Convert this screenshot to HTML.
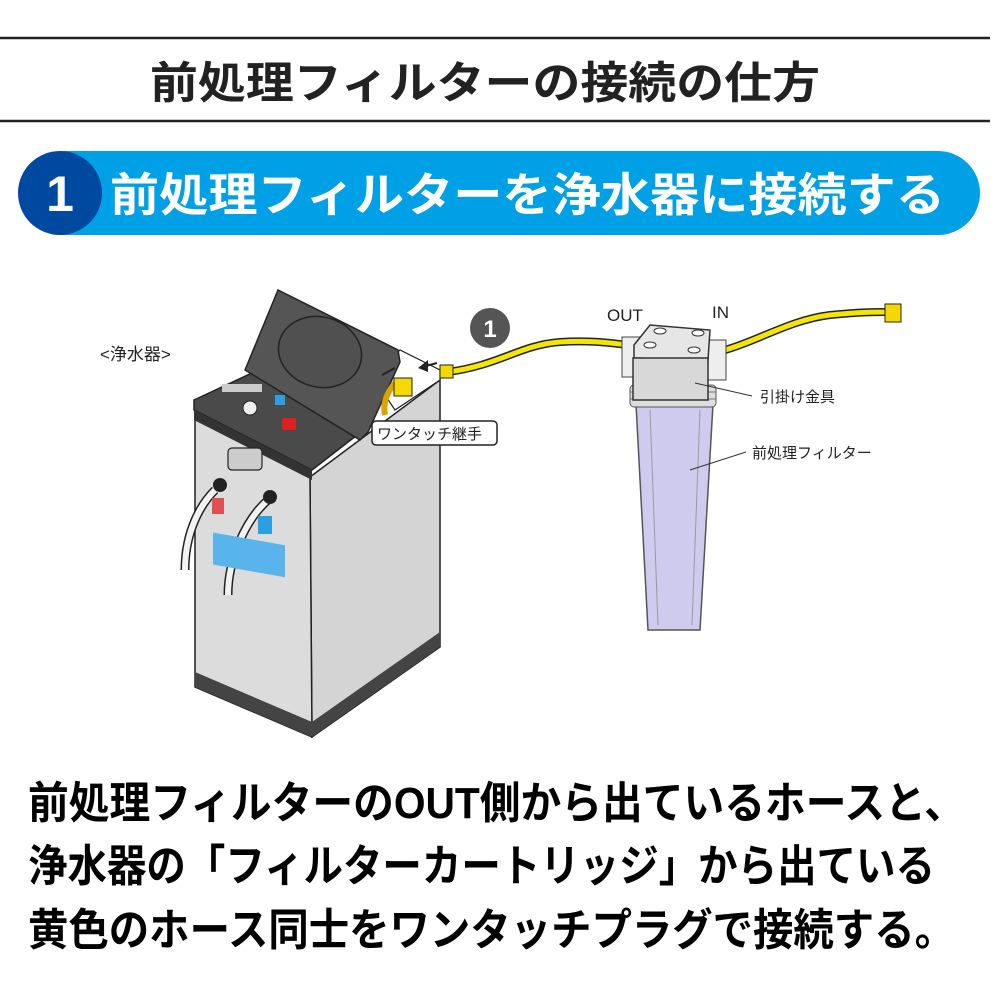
<!DOCTYPE html>
<html><head><meta charset="utf-8"><style>
html,body{margin:0;padding:0;background:#fff;}
svg{display:block;}
text{font-family:"Liberation Sans","Noto Sans CJK JP",sans-serif;}
</style></head><body>
<svg width="1000" height="1001" viewBox="0 0 1000 1001" xmlns="http://www.w3.org/2000/svg">
<line x1="0" y1="38" x2="990" y2="38" stroke="#222" stroke-width="2.5"/>
<line x1="0" y1="121" x2="990" y2="121" stroke="#222" stroke-width="2.5"/>
<text x="150" y="98" font-size="44" font-weight="bold" fill="#222" textLength="670" lengthAdjust="spacingAndGlyphs">前処理フィルターの接続の仕方</text>
<path d="M60 151 H938 A42 42 0 0 1 938 235 H60 Z" fill="#00a0e6"/>
<circle cx="60" cy="193" r="42" fill="#0049a0"/>
<text x="60" y="211" font-size="50" font-weight="bold" fill="#fff" text-anchor="middle">1</text>
<text x="110" y="211" font-size="46" font-weight="bold" fill="#fff" textLength="835" lengthAdjust="spacingAndGlyphs">前処理フィルターを浄水器に接続する</text>

<text x="100" y="360" font-size="17" fill="#222">&lt;浄水器&gt;</text>
<polygon points="310,477 440,380 440,647 312,737" fill="#d4d4d4" stroke="#222" stroke-width="1.5"/>
<polygon points="195,413 310,477 312,737 195,687" fill="#dcdcdc" stroke="#222" stroke-width="1.5"/>
<polygon points="195,672 312,722 312,737 195,687" fill="#444"/>
<polygon points="312,722 440,632 440,647 312,737" fill="#444"/>
<polygon points="194,400 252,373 370,425 312,470 194,410" fill="#4a4a4a" stroke="#222" stroke-width="1.5"/>
<polygon points="194,410 312,470 312,480 194,420" fill="#333"/>
<polygon points="380,370 400,350 440,370 440,380 395,410 385,395" fill="#fff" stroke="#222" stroke-width="1.2"/>
<polygon points="245,370 278,290 398,350 400,362 368,432 360,440" fill="#555" stroke="#222" stroke-width="1.5"/>
<ellipse cx="320" cy="352" rx="42" ry="35" fill="#505050" stroke="#222" stroke-width="1.5" transform="rotate(15 320 352)"/>
<rect x="222" y="384" width="40" height="8" fill="#ccc"/>
<rect x="275" y="395" width="10" height="10" fill="#2ba0e0"/>
<rect x="282" y="418" width="14" height="12" fill="#e02020"/>
<circle cx="250" cy="408" r="7" fill="#eee" stroke="#222"/>
<rect x="228" y="448" width="34" height="22" rx="4" fill="#ccc" stroke="#222" stroke-width="1.2"/>
<path d="M215 490 C195 510 185 540 185 570" stroke="#222" stroke-width="9" fill="none"/>
<path d="M215 490 C195 510 185 540 185 570" stroke="#f2f2f2" stroke-width="6" fill="none"/>
<path d="M268 500 C245 520 228 560 228 595" stroke="#222" stroke-width="9" fill="none"/>
<path d="M268 500 C245 520 228 560 228 595" stroke="#f2f2f2" stroke-width="6" fill="none"/>
<circle cx="220" cy="485" r="7" fill="#222"/><circle cx="270" cy="497" r="7" fill="#222"/>
<rect x="212" y="498" width="12" height="16" fill="#e05050"/>
<rect x="258" y="516" width="14" height="18" fill="#2ba0e0"/>
<rect x="213" y="535" width="72" height="32" fill="#5ab4ec" transform="skewY(10) translate(0,-40)"/>
<path d="M395 383 C385 395 383 405 385 415" stroke="#d9a400" stroke-width="6" fill="none"/>
<rect x="394" y="378" width="18" height="18" fill="#f5d800" stroke="#222"/>
<path d="M382 375 L395 368" stroke="#222" stroke-width="2"/>
<path d="M437 363 L422 367" stroke="#222" stroke-width="2"/>
<polygon points="418,368 428,360 428,372" fill="#222"/>
<rect x="372" y="421" width="125" height="24" rx="4" fill="#fff" stroke="#222" stroke-width="1.5"/>
<text x="377" y="439" font-size="15" fill="#222">ワンタッチ継手</text>

<path d="M448 372 C500 365 520 345 560 342 C590 340 610 343 628 345" stroke="#222" stroke-width="8" fill="none"/>
<path d="M448 372 C500 365 520 345 560 342 C590 340 610 343 628 345" stroke="#f5e600" stroke-width="5" fill="none"/>
<rect x="440" y="365" width="13" height="13" fill="#f5d800" stroke="#222"/>
<path d="M725 350 C760 340 790 320 830 315 C860 312 875 312 888 312" stroke="#222" stroke-width="8" fill="none"/>
<path d="M725 350 C760 340 790 320 830 315 C860 312 875 312 888 312" stroke="#f5e600" stroke-width="5" fill="none"/>
<rect x="885" y="304" width="16" height="18" fill="#f5d800" stroke="#222"/>
<circle cx="490" cy="328" r="20" fill="#555"/>
<text x="490" y="337" font-size="24" font-weight="bold" fill="#fff" text-anchor="middle">1</text>
<text x="607" y="321" font-size="17" fill="#222">OUT</text>
<text x="712" y="318" font-size="17" fill="#222">IN</text>

<polygon points="636,404 713,404 700,630 648,630" fill="#cfcbee" stroke="#555" stroke-width="1.5"/>
<line x1="650" y1="410" x2="658" y2="625" stroke="#999"/>
<line x1="700" y1="410" x2="692" y2="625" stroke="#999"/>
<rect x="630" y="385" width="86" height="22" rx="4" fill="#ddd" stroke="#555"/>
<line x1="630" y1="392" x2="716" y2="392" stroke="#777"/>
<line x1="630" y1="399" x2="716" y2="399" stroke="#777"/>
<rect x="622" y="337" width="20" height="40" fill="#eee" stroke="#444"/>
<rect x="706" y="340" width="20" height="40" fill="#eee" stroke="#444"/>
<polygon points="634,345 650,325 710,330 708,360 634,358" fill="#e6e6e6" stroke="#333" stroke-width="1.5"/>
<rect x="633" y="358" width="75" height="42" fill="#d8d8d8" stroke="#333" stroke-width="1.5"/>
<ellipse cx="660" cy="331" rx="6" ry="3" fill="#fff" stroke="#333"/>
<ellipse cx="698" cy="333" rx="6" ry="3" fill="#fff" stroke="#333"/>
<ellipse cx="650" cy="345" rx="6" ry="3" fill="#fff" stroke="#333"/>
<ellipse cx="694" cy="350" rx="6" ry="3" fill="#fff" stroke="#333"/>
<line x1="695" y1="383" x2="752" y2="396" stroke="#333"/>
<text x="760" y="402" font-size="15" fill="#222">引掛け金具</text>
<line x1="690" y1="470" x2="746" y2="452" stroke="#333"/>
<text x="752" y="458" font-size="15" fill="#222">前処理フィルター</text>

<text x="28" y="818" font-size="44" font-weight="bold" fill="#000" textLength="937" lengthAdjust="spacingAndGlyphs">前処理フィルターのOUT側から出ているホースと、</text>
<text x="28" y="881" font-size="44" font-weight="bold" fill="#000" textLength="907" lengthAdjust="spacingAndGlyphs">浄水器の「フィルターカートリッジ」から出ている</text>
<text x="28" y="945" font-size="44" font-weight="bold" fill="#000" textLength="927" lengthAdjust="spacingAndGlyphs">黄色のホース同士をワンタッチプラグで接続する。</text>
</svg>
</body></html>
